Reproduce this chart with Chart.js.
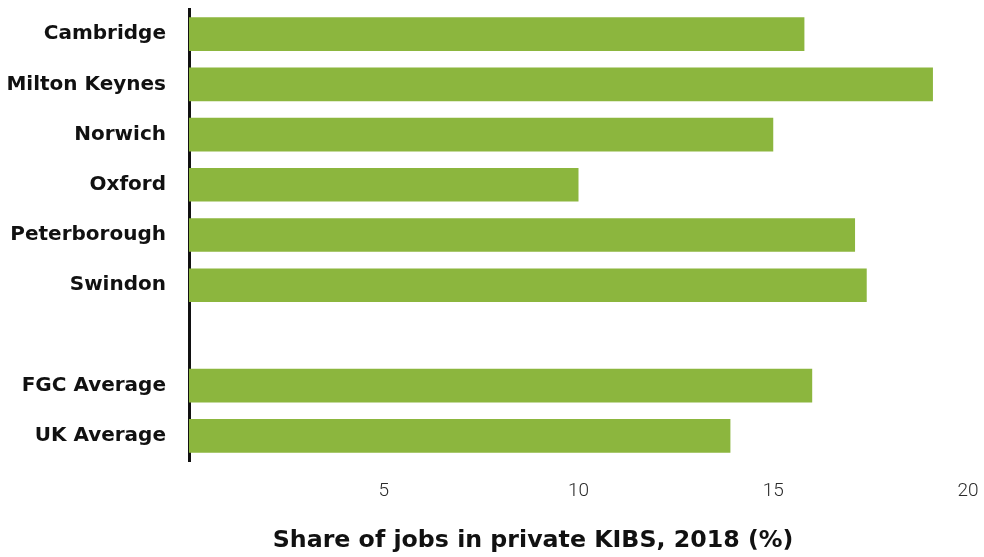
<!DOCTYPE html>
<html>
<head>
<meta charset="utf-8">
<script src="https://cdn.jsdelivr.net/npm/chart.js@4/dist/chart.umd.min.js"></script>
<style>
  html, body { margin: 0; padding: 0; background: #ffffff; }
  #wrap { width: 984px; height: 557px; position: relative; }
</style>
</head>
<body>
<div id="wrap"><canvas id="chart" width="984" height="557"></canvas></div>
<script>
// Areas compared; the empty entry leaves a gap before the averages
const categories = ['Cambridge', 'Milton Keynes', 'Norwich', 'Oxford', 'Peterborough', 'Swindon', '', 'FGC Average', 'UK Average'];
// Share of jobs in private KIBS, 2018 (%)
const shares = [15.8, 19.1, 15.0, 10.0, 17.1, 17.4, null, 16.0, 13.9];
const xTicks = [5, 10, 15, 20];
const axisTitle = 'Share of jobs in private KIBS, 2018 (%)';

const barGreen = '#8cb63e';
const boldFont = '"DejaVu Sans", "Liberation Sans", sans-serif';

// Bottom axis title, drawn a little left of the plot centre
const axisTitlePlugin = {
  id: 'axisTitle',
  afterDraw(chart) {
    const ctx = chart.ctx;
    ctx.save();
    ctx.font = 'bold 23.7px ' + boldFont;
    ctx.fillStyle = '#111111';
    ctx.textAlign = 'center';
    ctx.textBaseline = 'middle';
    ctx.fillText(axisTitle, 533, 541);
    ctx.restore();
  }
};

new Chart(document.getElementById('chart'), {
  type: 'bar',
  data: {
    labels: categories,
    datasets: [{
      data: shares,
      backgroundColor: barGreen,
      borderWidth: 0,
      barPercentage: 0.67,
      categoryPercentage: 1.0
    }]
  },
  options: {
    indexAxis: 'y',
    responsive: false,
    animation: false,
    layout: { padding: { top: 9, right: 16, left: 0, bottom: 0 } },
    plugins: { legend: { display: false }, tooltip: { enabled: false } },
    scales: {
      x: {
        min: 0,
        max: 20,
        afterFit(scale) {
          scale.height = 96;
          scale.paddingLeft = 0;
          scale.paddingRight = 0;
        },
        afterBuildTicks(scale) { scale.ticks = xTicks.map(v => ({ value: v })); },
        grid: { display: false, drawTicks: false },
        border: { display: false },
        ticks: {
          padding: 19,
          color: '#2a2a2a',
          font: { family: 'Roboto, sans-serif', size: 19, weight: 300 }
        }
      },
      y: {
        afterFit(scale) {
          scale.width = 189;
          scale.paddingTop = 0;
          scale.paddingBottom = 0;
        },
        grid: { display: false, drawTicks: false },
        border: { display: true, color: '#111111', width: 3 },
        ticks: {
          padding: 23,
          color: '#111111',
          font: { family: boldFont, size: 20, weight: 'bold' }
        }
      }
    }
  },
  plugins: [axisTitlePlugin]
});
</script>
</body>
</html>
